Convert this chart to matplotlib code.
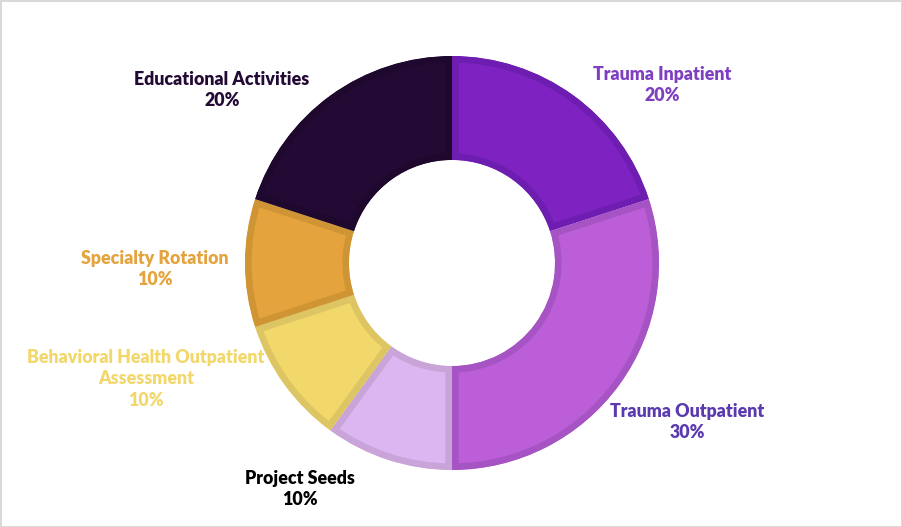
import matplotlib.pyplot as plt

# share of time by activity
labels = ['Trauma Inpatient', 'Trauma Outpatient', 'Project Seeds',
          'Behavioral Health Outpatient\nAssessment', 'Specialty Rotation',
          'Educational Activities']
shares = [20, 30, 10, 10, 10, 20]

fills = ['#7E22C2', '#BB5ED8', '#DCB6F0', '#F2D76A', '#E4A33C', '#230A35']
edges = ['#6D1DB0', '#A653C4', '#C9A4D8', '#DEC563', '#CF9434', '#1E082D']
text_colors = ['#7E3FC0', '#5A3AAE', '#000000', '#F2D76A', '#E4A33C', '#230A35']

# label anchor positions in pixels (top-left origin)
label_pos = [(662, 85), (687, 422), (300, 489), (146, 379), (155, 269), (222, 90)]

plt.rcParams['font.family'] = ['Lato', 'DejaVu Sans']

fig = plt.figure(figsize=(9.02, 5.27), dpi=100, linewidth=2, edgecolor='#d9d9d9')
ax = fig.add_axes([0, 0, 1, 1])

wedges, _ = ax.pie(shares, colors=fills, startangle=90, counterclock=False,
                   radius=207, center=(452, 527 - 263),
                   wedgeprops=dict(width=104, linewidth=0))

# excel-style inner border: thick edge clipped to the wedge itself
for w, ec in zip(wedges, edges):
    w.set_edgecolor(ec)
    w.set_linewidth(9.5)
    w.set_joinstyle('miter')
    w.set_clip_on(True)
    w.set_clip_path(w)

for lab, val, (x, y), c in zip(labels, shares, label_pos, text_colors):
    ax.text(x, 527 - y, f'{lab}\n{val}%', ha='center', va='center',
            color=c, fontsize=12.8, fontweight='heavy', linespacing=1.35)

ax.set_xlim(0, 902)
ax.set_ylim(0, 527)
ax.set_aspect('equal')
ax.axis('off')

fig.savefig('out.png', dpi=100, edgecolor=fig.get_edgecolor())
